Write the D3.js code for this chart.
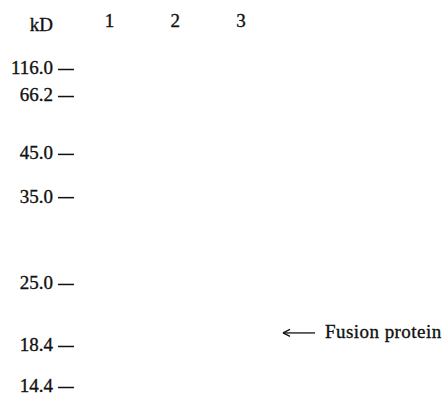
<!DOCTYPE html>
<html>
<head>
<meta charset="utf-8">
<style>
html, body { margin:0; padding:0; background:white; }
svg { display:block; }
text { font-family:"Liberation Serif","Times New Roman",serif; fill:#111; stroke:#111; stroke-width:0.35px; }
</style>
</head>
<body>
<div id="gel"></div>
<script src="https://cdn.jsdelivr.net/npm/d3@7"></script>
<script>
const markerKD = ["116.0", "66.2", "45.0", "35.0", "25.0", "18.4", "14.4"];
const markerMobility = [0, 0.085, 0.267, 0.403, 0.676, 0.871, 1.0];
const lanes = ["1", "2", "3"];
const bandLabel = "Fusion protein";
const bandMobility = 0.83;

const width = 443, height = 393;
const fs = 19;

const svg = d3.select("#gel").append("svg")
  .attr("width", width)
  .attr("height", height);

const y = d3.scaleLinear()
  .domain([0, 1])
  .range([69, 387]);

const x = d3.scalePoint()
  .domain(lanes)
  .range([109.5, 241]);

// marker axis : labels left of the little dashes
const axis = svg.append("g")
  .attr("transform", "translate(74,0)")
  .call(d3.axisLeft(y)
    .tickValues(markerMobility)
    .tickFormat((d, i) => markerKD[i])
    .tickSize(16)
    .tickPadding(5));
axis.select(".domain").remove();
axis.selectAll(".tick line").attr("stroke", "#111").attr("stroke-width", 1.5);
axis.selectAll(".tick text")
  .attr("font-size", fs)
  .attr("dy", "0.26em")
  .style("font-family", "'Liberation Serif','Times New Roman',serif")
  .attr("fill", "#111");

svg.append("text")
  .attr("x", 53)
  .attr("y", 31)
  .attr("text-anchor", "end")
  .attr("font-size", fs)
  .text("kD");

// lane numbers
svg.selectAll(".lane")
  .data(lanes)
  .enter().append("text")
  .attr("class", "lane")
  .attr("x", d => x(d))
  .attr("y", 27)
  .attr("text-anchor", "middle")
  .attr("font-size", fs)
  .text(d => d);

// fusion protein arrow
const by = y(bandMobility);
svg.append("line")
  .attr("x1", 283).attr("x2", 315)
  .attr("y1", by).attr("y2", by)
  .attr("stroke", "#111").attr("stroke-width", 1.3);
svg.append("path")
  .attr("d", `M283,${by} l7,-3.5 M283,${by} l7,3.5`)
  .attr("stroke", "#111").attr("stroke-width", 1.3).attr("fill", "none");
svg.append("text")
  .attr("x", 325)
  .attr("y", by + 5.5)
  .attr("font-size", fs)
  .attr("letter-spacing", 0.45)
  .text(bandLabel);
</script>
</body>
</html>
